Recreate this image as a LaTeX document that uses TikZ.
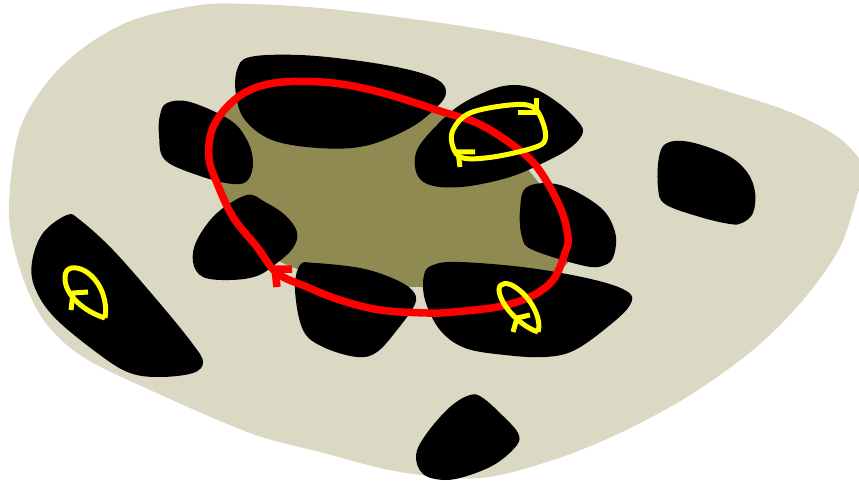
\documentclass[tikz,border=0pt]{standalone}
\begin{document}
\begin{tikzpicture}[x=1pt,y=-1pt,line join=miter]
\definecolor{bgbeige}{RGB}{219,216,195}
\definecolor{olive}{RGB}{143,138,82}
\tikzset{
  blob/.style={fill=black,draw=none},
  redloop/.style={draw={rgb,255:red,255;green,0;blue,0},line width=7.5pt},
  yelloop/.style={draw={rgb,255:red,255;green,255;blue,0},line width=5pt},
}
\useasboundingbox (0,0) rectangle (859,481);
\clip (0,0) rectangle (859,481);
% background region
\fill[bgbeige] plot[smooth cycle,tension=0.55] coordinates {
 (9,215) (18,135) (45,85) (83,48) (133,20) (200,5) (250,4) (320,8) (420,20)
 (520,36) (620,60) (723,90) (790,112) (835,135) (858,157) (866,174) (859,190) (840,247) (803,300)
 (753,350) (687,397) (620,433) (553,460) (480,478) (400,472) (320,452) (250,433) (150,390) (83,357) (45,322) (22,275)};
% central darker region
\fill[olive] plot[smooth cycle,tension=0.6] coordinates {
 (232,103) (330,118) (440,108) (535,178) (566,265) (420,287) (285,264) (224,198)};
% black blobs
\fill[blob] plot[smooth cycle,tension=0.6] coordinates {
 (250,57) (300,55) (360,61) (410,70) (438,80) (446,92) (438,106) (410,128) (365,146) (318,148) (272,140) (245,120) (236,95) (237,70)};
\fill[blob] plot[smooth cycle,tension=0.6] coordinates {
 (167,103) (190,102) (230,120) (247,140) (253,162) (248,180) (233,184) (200,176) (165,160) (159,135) (160,115)};
\fill[blob] plot[smooth cycle,tension=0.6] coordinates {
 (513,85) (490,90) (460,105) (437,125) (418,148) (415,167) (422,181) (440,187) (470,186) (510,177) (543,163) (570,148) (583,132) (575,118) (557,102) (535,89)};
\fill[blob] plot[smooth cycle,tension=0.6] coordinates {
 (527,187) (560,185) (600,207) (615,232) (614,255) (605,265) (585,266) (533,250) (522,237) (520,210)};
\fill[blob] plot[smooth cycle,tension=0.6] coordinates {
 (667,143) (690,142) (727,155) (747,172) (755,192) (753,213) (742,223) (730,224) (700,217) (665,204) (658,187) (659,157)};
\fill[blob] plot[smooth cycle,tension=0.6] coordinates {
 (247,195) (265,202) (285,215) (297,232) (293,248) (277,263) (257,276) (230,280) (203,277) (193,262) (197,240) (217,213)};
\fill[blob] plot[smooth cycle,tension=0.6] coordinates {
 (300,265) (315,263) (360,268) (392,278) (412,290) (415,304) (397,330) (377,352) (357,357) (323,347) (303,330) (295,290)};
\fill[blob] plot[smooth cycle,tension=0.6] coordinates {
 (433,265) (460,262) (530,268) (595,280) (628,292) (630,305) (610,325) (575,350) (545,357) (505,355) (465,348) (440,330) (425,300) (424,275)};
\fill[blob] plot[smooth cycle,tension=0.6] coordinates {
 (67,215) (80,220) (113,250) (157,300) (192,343) (203,362) (193,373) (160,377) (130,373) (100,355) (55,318) (35,288) (32,262) (43,233)};
\fill[blob] plot[smooth cycle,tension=0.6] coordinates {
 (470,395) (483,398) (505,418) (518,433) (517,445) (497,463) (470,475) (445,480) (423,474) (416,455) (427,433) (450,407)};
% red loop
\draw[redloop] plot[smooth cycle,tension=0.6] coordinates {
 (212,130) (227,107) (250,90) (283,82) (333,83) (383,93) (443,112) (477,123) (510,143) (537,167) (560,207) (568,237) (565,253) (553,280) (530,297) (497,307) (453,312) (427,313) (380,310) (340,300) (307,287) (277,273) (257,247) (233,217) (217,183) (209,158)};
\draw[redloop] (292,269) -- (275,269) -- (277,287);
% yellow loops
\draw[yelloop] plot[smooth cycle,tension=0.6] coordinates {
 (453,130) (470,113) (510,105) (533,107) (543,123) (545,140) (533,148) (493,157) (463,158) (453,147)};
\draw[yelloop] (518,113) -- (536,113) -- (536,98);
\draw[yelloop] (475,152) -- (458,152) -- (460,167);
\draw[yelloop] (105,318) .. controls (85,312) and (64,295) .. (65,277)
  .. controls (65,266) and (76,266) .. (85,271)
  .. controls (100,280) and (108,300) .. (105,318);
\draw[yelloop] (88,292) -- (73,293) -- (71,310);
\draw[yelloop] (538,332) .. controls (520,326) and (500,305) .. (499,290)
  .. controls (499,282) and (508,282) .. (515,287)
  .. controls (532,298) and (542,320) .. (538,332);
\draw[yelloop] (530,315) -- (517,318) -- (513,332);
\end{tikzpicture}
\end{document}
